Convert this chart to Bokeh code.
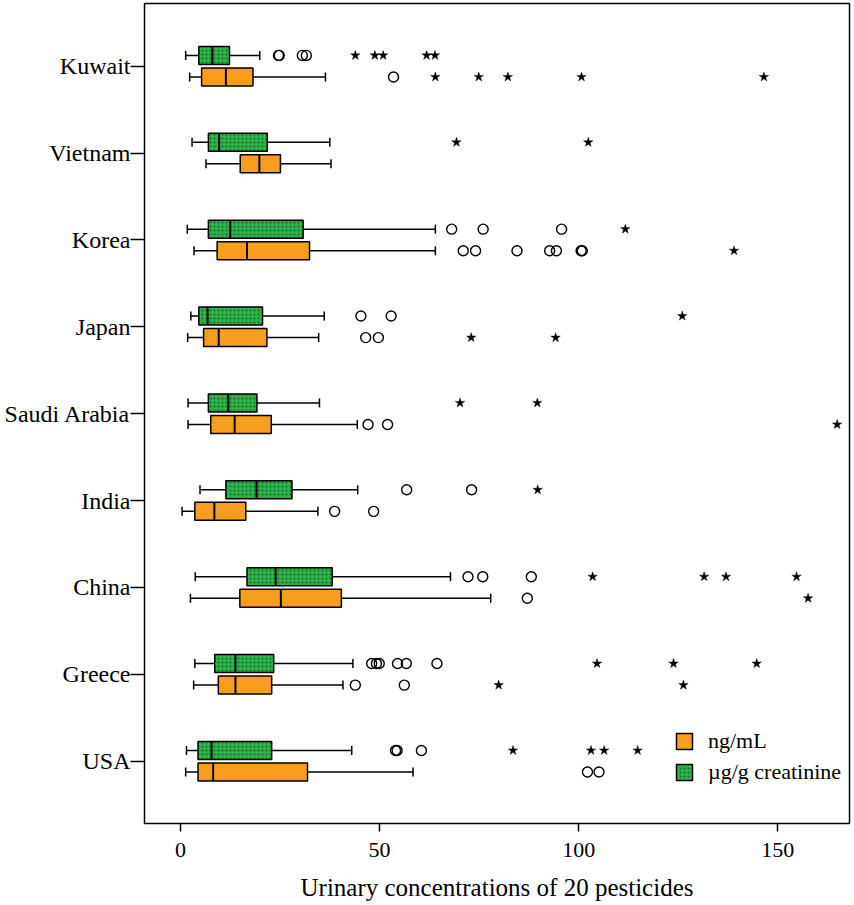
from bokeh.plotting import figure
from bokeh.models import ColumnDataSource, Range1d, FixedTicker, Legend, LegendItem
from bokeh.embed import file_html
from bokeh.resources import INLINE

countries = ["Kuwait", "Vietnam", "Korea", "Japan", "Saudi Arabia", "India", "China", "Greece", "USA"]
x_ticks = [0, 50, 100, 150]
x_title = "Urinary concentrations of 20 pesticides"
series_names = ["ng/mL", "\u00b5g/g creatinine"]

# ng/mL (orange): whisker low, Q1, median, Q3, whisker high
ng_low = [2.3, 6.4, 3.4, 1.8, 1.9, 0.4, 2.5, 3.3, 1.3]
ng_q1 = [5.3, 15.0, 9.2, 5.8, 7.6, 3.6, 14.9, 9.5, 4.4]
ng_med = [11.4, 19.8, 16.7, 9.6, 13.6, 8.5, 25.2, 13.8, 8.2]
ng_q3 = [18.2, 25.1, 32.4, 21.7, 22.8, 16.4, 40.4, 22.9, 31.9]
ng_high = [36.4, 37.8, 64.0, 34.7, 44.4, 34.5, 77.9, 40.8, 58.4]
ng_circle_country = ["Kuwait", "Korea", "Korea", "Korea", "Korea", "Korea", "Korea", "Korea",
                     "Japan", "Japan", "Saudi Arabia", "Saudi Arabia", "India", "India",
                     "China", "Greece", "Greece", "USA", "USA"]
ng_circle_value = [53.5, 71.0, 74.1, 84.5, 92.7, 94.4, 100.6, 100.9,
                   46.5, 49.7, 47.1, 52.0, 38.7, 48.5,
                   87.1, 43.9, 56.2, 102.2, 105.1]
ng_star_country = ["Kuwait", "Kuwait", "Kuwait", "Kuwait", "Kuwait", "Korea", "Japan", "Japan",
                   "Saudi Arabia", "China", "Greece", "Greece"]
ng_star_value = [64.0, 74.9, 82.2, 100.7, 146.5, 139.0, 73.0, 94.2,
                 164.9, 157.6, 79.9, 126.3]

# ug/g creatinine (green)
cr_low = [1.3, 2.9, 1.7, 2.6, 1.9, 4.9, 3.7, 3.6, 1.5]
cr_q1 = [4.6, 7.0, 7.0, 4.6, 7.0, 11.4, 16.7, 8.6, 4.4]
cr_med = [8.0, 9.7, 12.5, 6.8, 12.0, 19.1, 23.9, 13.8, 7.8]
cr_q3 = [12.3, 21.8, 30.8, 20.6, 19.2, 28.0, 38.1, 23.4, 22.9]
cr_high = [19.9, 37.5, 64.0, 36.1, 34.9, 44.5, 67.8, 43.3, 43.0]
cr_circle_country = ["Kuwait", "Kuwait", "Kuwait", "Kuwait", "Korea", "Korea", "Korea",
                     "Japan", "Japan", "India", "India", "China", "China", "China",
                     "Greece", "Greece", "Greece", "Greece", "Greece", "Greece",
                     "USA", "USA", "USA"]
cr_circle_value = [24.6, 24.8, 30.6, 31.6, 68.1, 76.0, 95.7,
                   45.3, 52.9, 56.8, 73.1, 72.2, 75.9, 88.1,
                   48.0, 49.2, 49.9, 54.5, 56.7, 64.4,
                   54.0, 54.4, 60.5]
cr_star_country = ["Kuwait", "Kuwait", "Kuwait", "Kuwait", "Kuwait", "Vietnam", "Vietnam",
                   "Korea", "Japan", "Saudi Arabia", "Saudi Arabia", "India",
                   "China", "China", "China", "China", "Greece", "Greece", "Greece",
                   "USA", "USA", "USA", "USA"]
cr_star_value = [43.9, 48.8, 50.9, 61.8, 63.9, 69.3, 102.4,
                 111.7, 126.0, 70.2, 89.6, 89.7,
                 103.5, 131.5, 137.0, 154.7, 104.6, 123.8, 144.7,
                 83.5, 103.1, 106.4, 114.8]

FONT = "Liberation Serif"
ORANGE = "#F99D1F"
GREEN = "#2FB24B"
n = len(countries)
pos = {c: n - 1 - i for i, c in enumerate(countries)}
BOX_H = 0.207
CAP = 0.052

p = figure(width=854, height=905,
           x_range=Range1d(-9.04, 168.0), y_range=Range1d(-0.717, 8.7215),
           output_backend="svg", toolbar_location=None,
           min_border_left=144, min_border_right=5, min_border_top=3, min_border_bottom=82)
p.xgrid.visible = False
p.ygrid.visible = False
p.outline_line_color = "black"
p.outline_line_width = 1.5
p.background_fill_color = "white"
p.border_fill_color = "white"


def draw(low, q1, med, q3, high, cc, cv, sc, sv, offset, color, hatch):
    ys = [pos[c] + offset for c in countries]
    src = ColumnDataSource(dict(y=ys, low=low, q1=q1, med=med, q3=q3, high=high,
                                cap_lo=[y - CAP for y in ys], cap_hi=[y + CAP for y in ys],
                                m_lo=[y - BOX_H / 2 for y in ys], m_hi=[y + BOX_H / 2 for y in ys]))
    p.segment(x0="low", y0="y", x1="q1", y1="y", source=src, line_color="black", line_width=1.5)
    p.segment(x0="q3", y0="y", x1="high", y1="y", source=src, line_color="black", line_width=1.5)
    p.segment(x0="low", y0="cap_lo", x1="low", y1="cap_hi", source=src, line_color="black", line_width=1.5)
    p.segment(x0="high", y0="cap_lo", x1="high", y1="cap_hi", source=src, line_color="black", line_width=1.5)
    kw = dict(hatch_pattern="dot", hatch_color="#17682A", hatch_scale=4, hatch_weight=1.2) if hatch else {}
    box = p.hbar(y="y", left="q1", right="q3", height=BOX_H, source=src,
                 fill_color=color, line_color="black", line_width=1.5, **kw)
    p.segment(x0="med", y0="m_lo", x1="med", y1="m_hi", source=src, line_color="black", line_width=2)
    csrc = ColumnDataSource(dict(x=cv, y=[pos[c] + offset for c in cc]))
    p.scatter(x="x", y="y", source=csrc, marker="circle", size=10,
              fill_color="white", fill_alpha=0, line_color="black", line_width=1.4)
    ssrc = ColumnDataSource(dict(x=sv, y=[pos[c] + offset for c in sc]))
    p.scatter(x="x", y="y", source=ssrc, marker="star", size=10,
              fill_color="black", line_color="black", line_width=0.4)
    return box


r_ng = draw(ng_low, ng_q1, ng_med, ng_q3, ng_high, ng_circle_country, ng_circle_value,
            ng_star_country, ng_star_value, -0.124, ORANGE, False)
r_cr = draw(cr_low, cr_q1, cr_med, cr_q3, cr_high, cr_circle_country, cr_circle_value,
            cr_star_country, cr_star_value, 0.124, GREEN, True)

xa = p.xaxis[0]
xa.ticker = FixedTicker(ticks=x_ticks)
xa.axis_label = x_title
xa.axis_line_color = None
xa.major_tick_out = 8
xa.major_tick_in = 0
xa.major_tick_line_width = 1.5
xa.major_tick_line_color = "black"
xa.minor_tick_line_color = None
xa.major_label_standoff = 11
xa.major_label_text_font = FONT
xa.major_label_text_font_size = "22px"
xa.major_label_text_color = "black"
xa.axis_label_standoff = 14
xa.axis_label_text_font = FONT
xa.axis_label_text_font_size = "25px"
xa.axis_label_text_font_style = "normal"
xa.axis_label_text_color = "black"

ya = p.yaxis[0]
ya.ticker = FixedTicker(ticks=list(range(n)))
ya.major_label_overrides = {pos[c]: c for c in countries}
ya.axis_line_color = None
ya.major_tick_out = 14
ya.major_tick_in = 0
ya.major_tick_line_width = 1.5
ya.major_tick_line_color = "black"
ya.minor_tick_line_color = None
ya.major_label_standoff = 0
ya.major_label_text_font = FONT
ya.major_label_text_font_size = "24px"
ya.major_label_text_color = "black"

legend = Legend(items=[LegendItem(label=series_names[0], renderers=[r_ng]),
                       LegendItem(label=series_names[1], renderers=[r_cr])],
                location=(530, 38), border_line_color=None, background_fill_alpha=0,
                label_text_font=FONT, label_text_font_size="22px", label_text_color="black",
                glyph_width=20, glyph_height=20, label_height=24, spacing=5,
                padding=4, margin=0, label_standoff=14)
p.add_layout(legend)

open("out.html", "w").write(file_html(p, INLINE))
